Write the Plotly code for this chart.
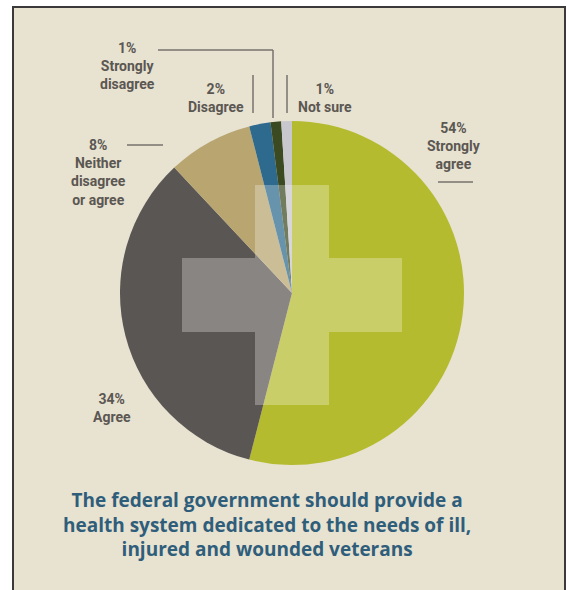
import plotly.graph_objects as go

# ---- data ----
categories = ["Strongly agree", "Agree", "Neither disagree or agree", "Disagree", "Strongly disagree", "Not sure"]
values = [54, 34, 8, 2, 1, 1]
colors = ["#b4bb2e", "#5a5654", "#b8a570", "#2e6a8e", "#3c4a22", "#c8c7cd"]
label_lines = [["Strongly", "agree"], ["Agree"], ["Neither", "disagree", "or agree"],
               ["Disagree"], ["Strongly", "disagree"], ["Not sure"]]
title_lines = ["The federal government should provide a",
               "health system dedicated to the needs of ill,",
               "injured and wounded veterans"]

W, H = 569, 590
def px(x):
    return x / W
def py(y):
    return 1 - y / H

BG = "#e8e2d1"
LABEL_C = "#5b5752"
TITLE_C = "#2f5e7b"
LFONT = "Liberation Sans Narrow, Roboto, sans-serif"
TFONT = "Open Sans, Roboto, sans-serif"

fig = go.Figure()
fig.add_trace(go.Pie(
    labels=categories, values=values, sort=False, direction="clockwise", rotation=0,
    marker=dict(colors=colors, line=dict(width=0)),
    textinfo="none", hoverinfo="label+percent", showlegend=False,
    domain=dict(x=[px(120), px(464)], y=[py(465), py(121)]),
))

shapes = []
# background panel with border (bottom edge extends past image)
shapes.append(dict(type="rect", xref="paper", yref="paper", layer="below",
                   x0=px(13), x1=px(565), y0=-0.05, y1=py(7),
                   fillcolor=BG, line=dict(color="#3b393a", width=2)))
# translucent cross
cx, cy, half, arm = 292, 295, 110, 37
path = (f"M {px(cx-arm)},{py(cy-half)} L {px(cx+arm)},{py(cy-half)} L {px(cx+arm)},{py(cy-arm)} "
        f"L {px(cx+half)},{py(cy-arm)} L {px(cx+half)},{py(cy+arm)} L {px(cx+arm)},{py(cy+arm)} "
        f"L {px(cx+arm)},{py(cy+half)} L {px(cx-arm)},{py(cy+half)} L {px(cx-arm)},{py(cy+arm)} "
        f"L {px(cx-half)},{py(cy+arm)} L {px(cx-half)},{py(cy-arm)} L {px(cx-arm)},{py(cy-arm)} Z")
shapes.append(dict(type="path", xref="paper", yref="paper", layer="above", path=path,
                   fillcolor="rgba(255,255,255,0.28)", line=dict(width=0)))

def seg(x0, y0, x1, y1):
    shapes.append(dict(type="line", xref="paper", yref="paper", layer="above",
                       x0=px(x0), y0=py(y0), x1=px(x1), y1=py(y1),
                       line=dict(color="#77736c", width=1.5)))

# leader lines
seg(158, 50, 273, 50)
seg(273, 50, 273, 118)
seg(253, 75, 253, 113)
seg(287, 75, 287, 113)
seg(438, 182, 473, 182)
seg(127, 145, 163, 145)

annotations = []
def lab(text, x, y, size=14, color=LABEL_C, font=LFONT):
    annotations.append(dict(text=text, x=px(x), y=py(y), xref="paper", yref="paper",
                            xanchor="center", yanchor="middle", align="center", showarrow=False,
                            font=dict(family=font, size=size, color=color)))

# label block centres (x, y) per category
label_pos = [(454, 146), (112, 408), (98, 172), (216, 98), (128, 66), (325, 98)]
for v, lines, (x, y) in zip(values, label_lines, label_pos):
    txt = "<br>".join(f"<b>{s}</b>" for s in [f"{v}%"] + lines)
    lab(txt, x, y)

lab("<br>".join(f"<b>{t}</b>" for t in title_lines), 267, 524, 19, TITLE_C, TFONT)

fig.update_layout(width=W, height=H, margin=dict(l=0, r=0, t=0, b=0),
                  paper_bgcolor="white", plot_bgcolor="white",
                  shapes=shapes, annotations=annotations)
fig.write_html("out.html")
